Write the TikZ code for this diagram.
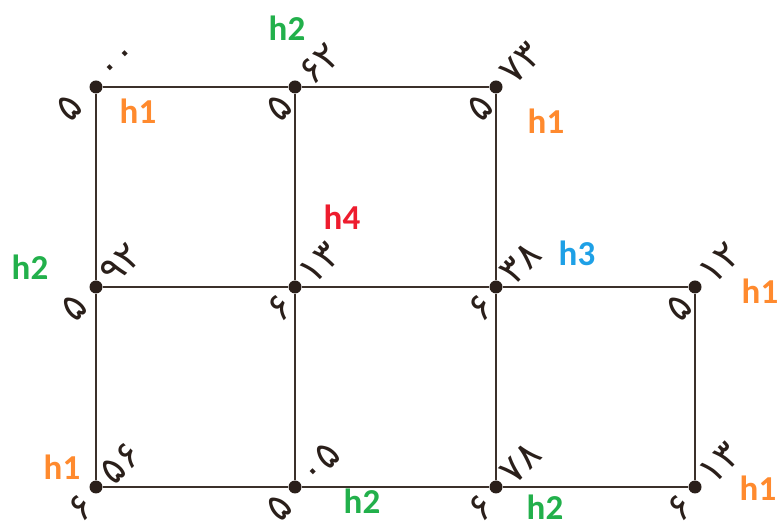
\documentclass[tikz,border=0pt]{standalone}
\usepackage{fontspec}
\setmainfont{Carlito}
\newfontfamily\fa{DejaVu Sans}
\definecolor{ln}{HTML}{3B302A}
\definecolor{dt}{HTML}{2A1F1A}
\definecolor{hor}{HTML}{FF8A2E}
\definecolor{hgr}{HTML}{22B04B}
\definecolor{hrd}{HTML}{EE1C2E}
\definecolor{hbl}{HTML}{1EA0E6}
\tikzset{
  dot/.style={circle,fill=dt,inner sep=0pt,minimum size=13pt},
  edge/.style={draw=ln,line width=1.6pt},
  ur/.style={xshift=10pt,yshift=9pt,rotate=45,font=\fa\fontsize{38}{38}\selectfont,text=dt,anchor=west,inner sep=0pt},
  ll/.style={xshift=#1,yshift=-13pt,rotate=45,font=\fa\fontsize{38}{38}\selectfont,text=dt,anchor=east,inner sep=0pt},
  ll/.default=-8pt,
  hl/.style={font=\bfseries\fontsize{35}{35}\selectfont,inner sep=0pt}
}
\begin{document}
\begin{tikzpicture}[x=1pt,y=1pt]
\useasboundingbox (0,0) rectangle (777,522);
% nodes (y = 522 - pixel y)
\node[dot] (a1) at (96,435) {};
\node[dot] (a2) at (295,435) {};
\node[dot] (a3) at (496,435) {};
\node[dot] (b1) at (96,235) {};
\node[dot] (b2) at (295,235) {};
\node[dot] (b3) at (496,235) {};
\node[dot] (b4) at (695,235) {};
\node[dot] (c1) at (96,35) {};
\node[dot] (c2) at (295,35) {};
\node[dot] (c3) at (496,35) {};
\node[dot] (c4) at (695,35) {};
% edges
\draw[edge] (a1) -- (a2) -- (a3);
\draw[edge] (b1) -- (b2) -- (b3) -- (b4);
\draw[edge] (c1) -- (c2) -- (c3) -- (c4);
\draw[edge] (a1) -- (b1) -- (c1);
\draw[edge] (a2) -- (b2) -- (c2);
\draw[edge] (a3) -- (b3) -- (c3);
\draw[edge] (b4) -- (c4);
% digit labels
\node[ur] (a1u) at (a1) {۰۰};
\node[ll=-19pt] (a1l) at (a1) {۵};
\node[ur] (a2u) at (a2) {۶۲};
\node[ll] (a2l) at (a2) {۵};
\node[ur] (a3u) at (a3) {۷۳};
\node[ll] (a3l) at (a3) {۵};
\node[ur] (b1u) at (b1) {۹۲};
\node[ll=-14pt] (b1l) at (b1) {۵};
\node[ur] (b2u) at (b2) {۱۳};
\node[ll] (b2l) at (b2) {۶};
\node[ur] (b3u) at (b3) {۳۸};
\node[ll] (b3l) at (b3) {۶};
\node[ur] (b4u) at (b4) {۱۲};
\node[ll] (b4l) at (b4) {۵};
\node[ur] (c1u) at (c1) {۵۶};
\node[ll] (c1l) at (c1) {۶};
\node[ur] (c2u) at (c2) {۰۵};
\node[ll] (c2l) at (c2) {۵};
\node[ur] (c3u) at (c3) {۷۸};
\node[ll] (c3l) at (c3) {۶};
\node[ur] (c4u) at (c4) {۱۳};
\node[ll] (c4l) at (c4) {۶};
% h labels
\node[hl,text=hor] (h1a) at (138,411) {h1};
\node[hl,text=hor] (h1b) at (546,401) {h1};
\node[hl,text=hor] (h1c) at (760,231) {h1};
\node[hl,text=hor] (h1d) at (62,55) {h1};
\node[hl,text=hor] (h1e) at (758,34) {h1};
\node[hl,text=hgr] (h2a) at (287,494) {h2};
\node[hl,text=hgr] (h2b) at (30,255) {h2};
\node[hl,text=hgr] (h2c) at (362,21) {h2};
\node[hl,text=hgr] (h2d) at (545,15) {h2};
\node[hl,text=hrd] (h4) at (342,305) {h4};
\node[hl,text=hbl] (h3) at (577,269) {h3};
\end{tikzpicture}
\end{document}
